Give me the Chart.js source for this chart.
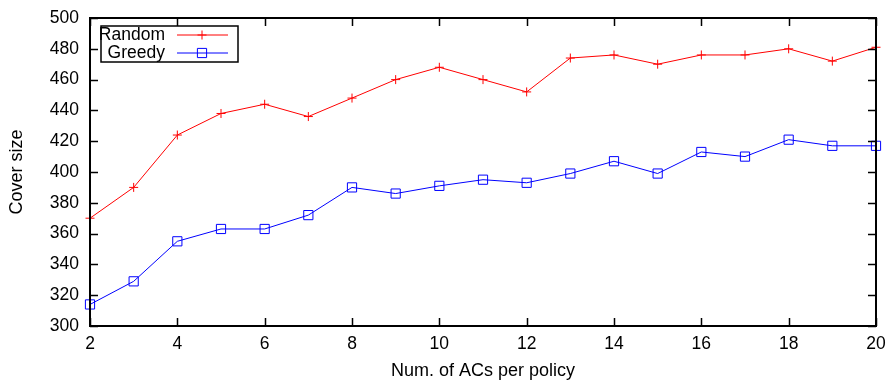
<!DOCTYPE html>
<html>
<head>
<meta charset="utf-8">
<script src="https://cdn.jsdelivr.net/npm/chart.js@4/dist/chart.umd.min.js"></script>
<style>
  html, body { margin: 0; padding: 0; background: #fff; }
</style>
</head>
<body>
<canvas id="coverChart" width="890" height="381"></canvas>
<script>
// number of ACs per policy (x) and resulting cover size for each method
const acsPerPolicy = [2, 3, 4, 5, 6, 7, 8, 9, 10, 11, 12, 13, 14, 15, 16, 17, 18, 19, 20];
const randomCover = [370, 390, 424, 438, 444, 436, 448, 460, 468, 460, 452, 474, 476, 470, 476, 476, 480, 472, 481];
const greedyCover = [314, 329, 355, 363, 363, 372, 390, 386, 391, 395, 393, 399, 407, 399, 413, 410, 421, 417, 417];

const xTickValues = [2, 4, 6, 8, 10, 12, 14, 16, 18, 20];
const yTickValues = [300, 320, 340, 360, 380, 400, 420, 440, 460, 480, 500];

const FONT = "'Liberation Sans', Arial, Helvetica, sans-serif";

const toPoints = ys => acsPerPolicy.map((x, i) => ({ x: x, y: ys[i] }));

const series = [
    { label: 'Random', color: '#ff0000', style: 'cross', radius: 4.5, data: randomCover },
    { label: 'Greedy', color: '#0000ff', style: 'rect', radius: 6.5, data: greedyCover }
];

// small marker helper, used for the legend samples
function drawMarker(ctx, style, x, y, r, color) {
    ctx.save();
    ctx.strokeStyle = color;
    ctx.lineWidth = 1;
    ctx.beginPath();
    if (style === 'cross') {
        ctx.moveTo(x - r, y); ctx.lineTo(x + r, y);
        ctx.moveTo(x, y - r); ctx.lineTo(x, y + r);
    } else {
        const s = Math.SQRT1_2 * r;
        ctx.rect(x - s, y - s, 2 * s, 2 * s);
    }
    ctx.stroke();
    ctx.restore();
}

// gnuplot-like frame: border box, inward ticks on all sides, boxed legend
const framePlugin = {
    id: 'gnuplotFrame',
    afterDraw(chart) {
        const { ctx, chartArea: a, scales } = chart;
        const tick = 8;
        ctx.save();
        ctx.strokeStyle = '#000';
        ctx.lineWidth = 1.5;
        ctx.beginPath();
        xTickValues.forEach(v => {
            const px = Math.round(scales.x.getPixelForValue(v)) + 0.5;
            ctx.moveTo(px, a.bottom); ctx.lineTo(px, a.bottom - tick);
            ctx.moveTo(px, a.top); ctx.lineTo(px, a.top + tick);
        });
        yTickValues.forEach(v => {
            const py = Math.round(scales.y.getPixelForValue(v)) + 0.5;
            ctx.moveTo(a.left, py); ctx.lineTo(a.left + tick, py);
            ctx.moveTo(a.right, py); ctx.lineTo(a.right - tick, py);
        });
        ctx.stroke();
        ctx.lineWidth = 2;
        ctx.strokeRect(a.left, a.top, a.right - a.left, a.bottom - a.top);

        // legend
        const lx = a.left + 11, ly = a.top + 8;
        ctx.lineWidth = 1.5;
        ctx.strokeRect(lx, ly, 137, 36);
        ctx.font = '17.5px ' + FONT;
        ctx.fillStyle = '#000';
        ctx.textAlign = 'right';
        ctx.textBaseline = 'middle';
        series.forEach((s, i) => {
            const cy = ly + 9 + i * 18;
            ctx.fillText(s.label, lx + 64, cy);
            ctx.strokeStyle = s.color;
            ctx.lineWidth = 1;
            ctx.beginPath();
            ctx.moveTo(lx + 76, cy); ctx.lineTo(lx + 127, cy);
            ctx.stroke();
            drawMarker(ctx, s.style, lx + 101, cy, s.radius, s.color);
        });
        ctx.restore();
    }
};

new Chart(document.getElementById('coverChart'), {
    type: 'line',
    data: {
        datasets: series.map(s => ({
            label: s.label,
            data: toPoints(s.data),
            borderColor: s.color,
            backgroundColor: s.color,
            borderWidth: 1,
            pointStyle: s.style,
            pointRadius: s.radius,
            pointBorderColor: s.color,
            pointBackgroundColor: 'rgba(0,0,0,0)',
            pointBorderWidth: 1,
            tension: 0,
            fill: false,
            clip: false
        }))
    },
    options: {
        responsive: false,
        animation: false,
        layout: { padding: { top: 18, right: 14, left: 0, bottom: 0 } },
        scales: {
            x: {
                type: 'linear',
                min: 2,
                max: 20,
                grid: { display: false, drawTicks: false },
                border: { display: false },
                afterBuildTicks: scale => { scale.ticks = xTickValues.map(v => ({ value: v })); },
                afterFit: scale => {
                    scale.height = 55;
                    scale.paddingLeft = 0;
                    scale.paddingRight = 0;
                },
                ticks: { color: '#000', font: { family: FONT, size: 17.5 }, padding: 8, maxRotation: 0 },
                title: {
                    display: true,
                    text: 'Num. of ACs per policy',
                    color: '#000',
                    font: { family: FONT, size: 18 },
                    padding: { bottom: -1 }
                }
            },
            y: {
                min: 300,
                max: 500,
                grid: { display: false, drawTicks: false },
                border: { display: false },
                afterBuildTicks: scale => { scale.ticks = yTickValues.map(v => ({ value: v })); },
                afterFit: scale => {
                    scale.width = 90;
                    scale.paddingTop = 0;
                    scale.paddingBottom = 0;
                },
                ticks: { color: '#000', font: { family: FONT, size: 17.5 }, padding: 11 },
                title: {
                    display: true,
                    text: 'Cover size',
                    color: '#000',
                    font: { family: FONT, size: 18 },
                    padding: { top: 6 }
                }
            }
        },
        plugins: {
            legend: { display: false },
            tooltip: { enabled: false }
        }
    },
    plugins: [framePlugin]
});
</script>
</body>
</html>
